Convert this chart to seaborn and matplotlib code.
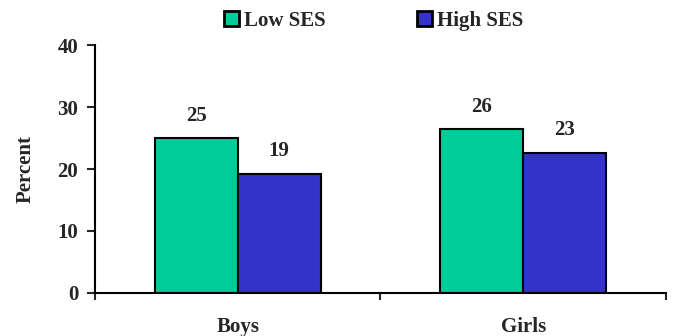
import matplotlib
matplotlib.use("Agg")
import matplotlib.pyplot as plt
import seaborn as sns
import pandas as pd
from matplotlib.patches import Patch

# Share of children by sex and socioeconomic status
groups = ["Boys", "Girls"]
ses_levels = ["Low SES", "High SES"]
low_ses = [25.0, 26.4]
high_ses = [19.2, 22.6]
y_ticks = [0, 10, 20, 30, 40]
colors = {"Low SES": "#00CC99", "High SES": "#3333CC"}

df = pd.DataFrame({
    "group": groups * 2,
    "ses": [ses_levels[0]] * 2 + [ses_levels[1]] * 2,
    "percent": low_ses + high_ses,
})

sns.set_style("white")
plt.rcParams["font.family"] = ["Liberation Serif", "DejaVu Serif"]
plt.rcParams["font.weight"] = "bold"
FS = 15

fig = plt.figure(figsize=(6.75, 3.36), dpi=100)
ax = fig.add_axes([0.1407, 0.128, 0.846, 0.738])

sns.barplot(data=df, x="group", y="percent", hue="ses", order=groups,
            hue_order=ses_levels, palette=colors, width=0.58, gap=0,
            edgecolor="black", linewidth=1.5, saturation=1, ax=ax,
            legend=False)

for container in ax.containers:
    ax.bar_label(container, fmt="%.0f", padding=9, fontsize=FS,
                 fontweight="bold")

ax.set_xlim(-0.5, 1.5)
ax.set_ylim(0, 40)
ax.set_yticks(y_ticks)
ax.set_yticklabels([str(t) for t in y_ticks], fontsize=FS, fontweight="bold")
ax.tick_params(axis="y", direction="out", length=6, width=1.5, pad=6, left=True)

ax.set_xticks([0, 1])
ax.set_xticklabels(groups, fontsize=FS, fontweight="bold")
ax.tick_params(axis="x", which="major", length=0, pad=17)
ax.set_xticks([-0.5, 0.5, 1.5], minor=True)
ax.tick_params(axis="x", which="minor", direction="out", length=5, width=1.5,
               bottom=True)

ax.set_xlabel("")
ax.set_ylabel("Percent", fontsize=FS, fontweight="bold", labelpad=16)

for side in ["top", "right"]:
    ax.spines[side].set_visible(False)
for side in ["left", "bottom"]:
    ax.spines[side].set_color("black")
    ax.spines[side].set_linewidth(1.5)

handles = [Patch(facecolor=colors[s], edgecolor="black", linewidth=2)
           for s in ses_levels]
fig.legend(handles, ses_levels, loc="center", bbox_to_anchor=(0.554, 0.9375),
           ncol=2, frameon=False, handlelength=0.7, handleheight=0.7,
           handletextpad=0.25, columnspacing=4.4, borderaxespad=0,
           prop={"size": FS, "weight": "bold"})

fig.savefig("out.png", dpi=100)
